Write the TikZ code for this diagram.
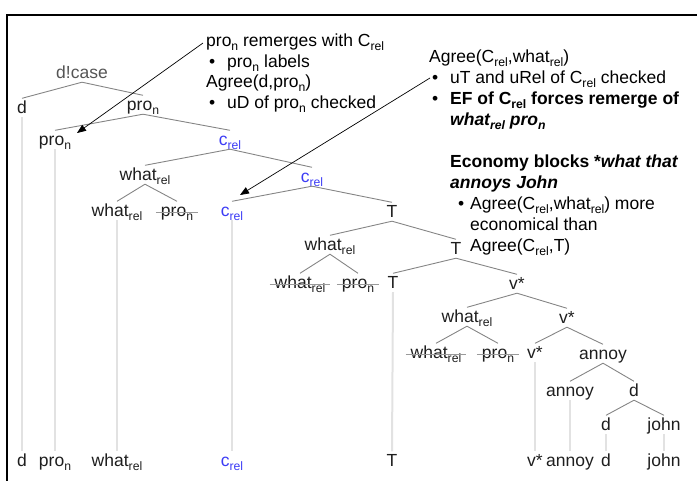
\documentclass[tikz,border=0pt]{standalone}
\usepackage{fontspec}
\setmainfont{Liberation Sans}
\usetikzlibrary{arrows.meta}
\definecolor{treetext}{HTML}{1E1E1E}
\definecolor{casetext}{HTML}{555555}
\definecolor{relblue}{HTML}{3C3CF5}
\definecolor{branchc}{HTML}{858585}
\definecolor{tracec}{HTML}{E2E2E2}
\definecolor{strikec}{HTML}{9A9A9A}
\newcommand\sbs[1]{\raisebox{-0.28em}{\fontsize{12.2}{12.2}\selectfont #1}}
\begin{document}
\begin{tikzpicture}[x=1pt,y=-1pt,
  tn/.style={font=\fontsize{17.5}{21}\selectfont, text=treetext, inner sep=1pt,
             text height=13.5pt, text depth=3pt, anchor=base},
  rel/.style={tn, text=relblue},
  br/.style={draw=branchc, line width=0.9pt},
  tr/.style={draw=tracec, line width=2pt},
  strk/.style={draw=strikec, line width=0.9pt},
  note/.style={font=\fontsize{17.5}{21}\selectfont, anchor=base west, inner sep=0pt, text=black},
  arr/.style={-{Triangle[length=9pt,width=7pt]}, line width=0.7pt, black},
  frame/.style={draw=black, line width=1.6pt}]
\useasboundingbox (0,0) rectangle (697,480);
\draw[frame] (7,481) -- (7,15) -- (698,15);

% tree nodes
\node[tn, text=casetext] (dcase) at (82,78) {d!case};
\node[tn] (d1) at (22,113) {d};
\node[tn] (p1) at (143,110) {pro\sbs{n}};
\node[tn] (p2) at (55,145) {pro\sbs{n}};
\node[rel] (c2) at (230,145) {c\sbs{rel}};
\node[tn] (w3) at (145,180) {what\sbs{rel}};
\node[rel] (c3) at (312,182) {c\sbs{rel}};
\node[tn] (w4) at (117,216) {what\sbs{rel}};
\node[tn] (p4) at (177,216) {pro\sbs{n}};
\node[rel] (c4) at (232,216) {c\sbs{rel}};
\node[tn] (T4) at (392,217) {T};
\node[tn] (w5) at (330,250) {what\sbs{rel}};
\node[tn] (T5) at (456,254) {T};
\node[tn] (w6) at (300,288) {what\sbs{rel}};
\node[tn] (p6) at (358,288) {pro\sbs{n}};
\node[tn] (T6) at (393,288) {T};
\node[tn] (v6) at (517,289) {v*};
\node[tn] (w7) at (467,322) {what\sbs{rel}};
\node[tn] (v7) at (567,323) {v*};
\node[tn] (w8) at (436,358) {what\sbs{rel}};
\node[tn] (p8) at (498,358) {pro\sbs{n}};
\node[tn] (v8) at (535,358) {v*};
\node[tn] (a8) at (603,359) {annoy};
\node[tn] (a9) at (570,396) {annoy};
\node[tn] (d9) at (634,396) {d};
\node[tn] (d10) at (606,430) {d};
\node[tn] (j10) at (664,430) {john};
% bottom row
\node[tn] (bd) at (22,466) {d};
\node[tn] (bp) at (55,466) {pro\sbs{n}};
\node[tn] (bw) at (117,466) {what\sbs{rel}};
\node[rel] (bc) at (232,466) {c\sbs{rel}};
\node[tn] (bT) at (392,466) {T};
\node[tn] (bv) at (535,466) {v*};
\node[tn] (ba) at (570,466) {annoy};
\node[tn] (bdd) at (606,466) {d};
\node[tn] (bj) at (664,466) {john};

% branches
\foreach \p/\c in {dcase/d1,dcase/p1,p1/p2,p1/c2,c2/w3,c2/c3,w3/w4,w3/p4,c3/c4,c3/T4,
  T4/w5,T4/T5,w5/w6,w5/p6,T5/T6,T5/v6,v6/w7,v6/v7,w7/w8,w7/p8,v7/v8,v7/a8,a8/a9,a8/d9,d9/d10,d9/j10}
  \draw[br] (\p.south) -- (\c.north);
% traces
\foreach \a/\b in {d1/bd,p2/bp,w4/bw,c4/bc,T6/bT,v8/bv,a9/ba,d10/bdd,j10/bj}
  \draw[tr] (\a.south) -- (\b.north);
% strike-outs
\foreach \n in {p4,w6,p6,w8,p8}
  \draw[strk] ([xshift=-4pt,yshift=3.5pt]\n.base west) -- ([xshift=4pt,yshift=3.5pt]\n.base east);

% annotations
\node[note] (n1a) at (206,46) {pro\sbs{n} remerges with C\sbs{rel}};
\node[note] (n1b) at (209,67) {\makebox[18pt][l]{•}pro\sbs{n} labels};
\node[note] (n1c) at (206,87) {Agree(d,pro\sbs{n})};
\node[note] (n1d) at (209,108) {\makebox[18pt][l]{•}uD of pro\sbs{n} checked};

\node[note] (n2a) at (429,62) {Agree(C\sbs{rel},what\sbs{rel})};
\node[note] (n2b) at (432,83) {\makebox[18pt][l]{•}uT and uRel of C\sbs{rel} checked};
\node[note] (n2c) at (432,104) {\makebox[18pt][l]{•}\bfseries EF of C\sbs{rel} forces remerge of};
\node[note] (n2d) at (450,125) {\bfseries\itshape what\sbs{rel} pro\sbs{n}};

\node[note] (n3a) at (450,167) {\bfseries Economy blocks *\itshape what that};
\node[note] (n3b) at (450,188) {\bfseries\itshape annoys John};
\node[note] (n3c) at (458,209) {\makebox[12pt][l]{•}Agree(C\sbs{rel},what\sbs{rel}) more};
\node[note] (n3d) at (470,230) {economical than};
\node[note] (n3e) at (470,251) {Agree(C\sbs{rel},T)};

% arrows
\coordinate (a1s) at (203,43);
\coordinate (a1e) at (77,133);
\draw[arr] (a1s) -- (a1e);
\coordinate (a2s) at (430,78);
\coordinate (a2e) at (240,195);
\draw[arr] (a2s) -- (a2e);
\end{tikzpicture}
\end{document}
